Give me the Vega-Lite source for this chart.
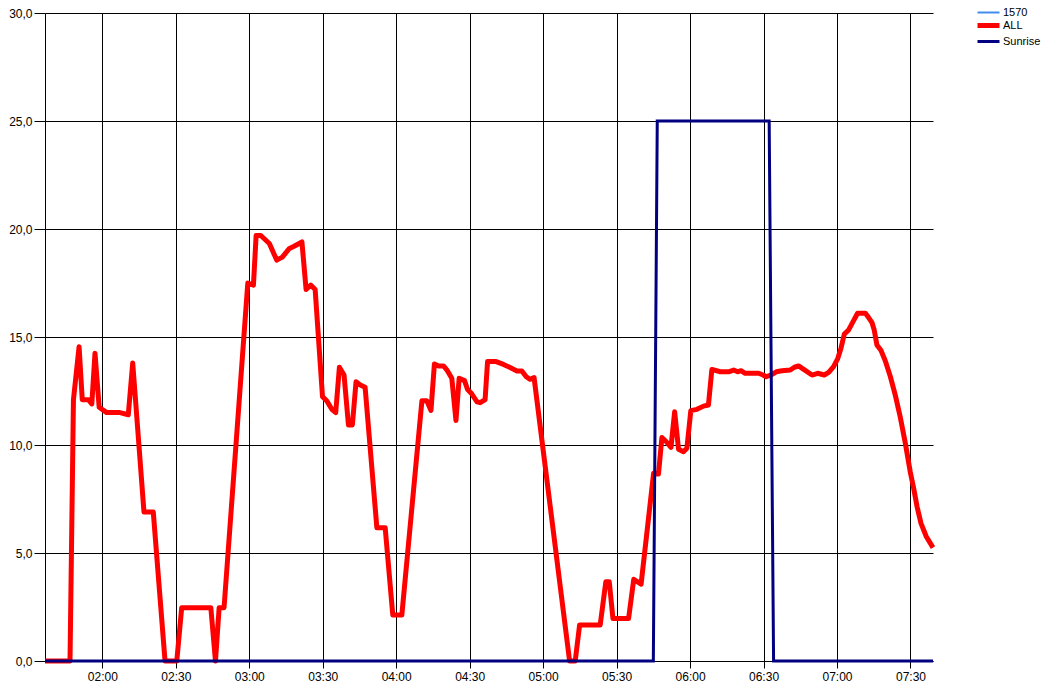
{
  "$schema": "https://vega.github.io/schema/vega-lite/v6.json",
  "width": 888,
  "height": 648,
  "autosize": "none",
  "padding": {"left": 45, "top": 13, "right": 113, "bottom": 28},
  "background": "white",
  "config": {
    "view": {"stroke": null},
    "font": "Liberation Sans",
    "axis": {
      "labelFont": "Liberation Sans",
      "labelFontSize": 12,
      "labelColor": "black",
      "domainColor": "black",
      "tickColor": "black",
      "gridColor": "black",
      "gridOpacity": 1,
      "gridWidth": 1,
      "domainWidth": 1,
      "tickWidth": 1,
      "title": null
    }
  },
  "data": {
    "values": [
      {"t": "1900-01-01T01:36:35", "v": 0, "series": "ALL"},
      {"t": "1900-01-01T01:46:48", "v": 0, "series": "ALL"},
      {"t": "1900-01-01T01:48:12", "v": 12.1, "series": "ALL"},
      {"t": "1900-01-01T01:50:30", "v": 14.55, "series": "ALL"},
      {"t": "1900-01-01T01:51:48", "v": 12.1, "series": "ALL"},
      {"t": "1900-01-01T01:54:18", "v": 12.1, "series": "ALL"},
      {"t": "1900-01-01T01:55:42", "v": 11.9, "series": "ALL"},
      {"t": "1900-01-01T01:57:00", "v": 14.25, "series": "ALL"},
      {"t": "1900-01-01T01:58:42", "v": 11.75, "series": "ALL"},
      {"t": "1900-01-01T02:01:48", "v": 11.5, "series": "ALL"},
      {"t": "1900-01-01T02:07:12", "v": 11.5, "series": "ALL"},
      {"t": "1900-01-01T02:10:36", "v": 11.4, "series": "ALL"},
      {"t": "1900-01-01T02:12:24", "v": 13.8, "series": "ALL"},
      {"t": "1900-01-01T02:17:00", "v": 6.9, "series": "ALL"},
      {"t": "1900-01-01T02:20:48", "v": 6.9, "series": "ALL"},
      {"t": "1900-01-01T02:25:36", "v": 0, "series": "ALL"},
      {"t": "1900-01-01T02:30:24", "v": 0, "series": "ALL"},
      {"t": "1900-01-01T02:32:24", "v": 2.47, "series": "ALL"},
      {"t": "1900-01-01T02:44:18", "v": 2.47, "series": "ALL"},
      {"t": "1900-01-01T02:46:12", "v": 0, "series": "ALL"},
      {"t": "1900-01-01T02:47:42", "v": 2.47, "series": "ALL"},
      {"t": "1900-01-01T02:49:42", "v": 2.47, "series": "ALL"},
      {"t": "1900-01-01T02:59:24", "v": 17.5, "series": "ALL"},
      {"t": "1900-01-01T03:01:42", "v": 17.4, "series": "ALL"},
      {"t": "1900-01-01T03:02:48", "v": 19.7, "series": "ALL"},
      {"t": "1900-01-01T03:04:42", "v": 19.7, "series": "ALL"},
      {"t": "1900-01-01T03:08:12", "v": 19.33, "series": "ALL"},
      {"t": "1900-01-01T03:11:12", "v": 18.56, "series": "ALL"},
      {"t": "1900-01-01T03:13:30", "v": 18.7, "series": "ALL"},
      {"t": "1900-01-01T03:16:24", "v": 19.1, "series": "ALL"},
      {"t": "1900-01-01T03:18:18", "v": 19.2, "series": "ALL"},
      {"t": "1900-01-01T03:21:30", "v": 19.4, "series": "ALL"},
      {"t": "1900-01-01T03:23:12", "v": 17.2, "series": "ALL"},
      {"t": "1900-01-01T03:25:06", "v": 17.4, "series": "ALL"},
      {"t": "1900-01-01T03:26:54", "v": 17.2, "series": "ALL"},
      {"t": "1900-01-01T03:29:54", "v": 12.24, "series": "ALL"},
      {"t": "1900-01-01T03:31:42", "v": 12.04, "series": "ALL"},
      {"t": "1900-01-01T03:33:42", "v": 11.65, "series": "ALL"},
      {"t": "1900-01-01T03:35:18", "v": 11.5, "series": "ALL"},
      {"t": "1900-01-01T03:36:48", "v": 13.6, "series": "ALL"},
      {"t": "1900-01-01T03:38:42", "v": 13.24, "series": "ALL"},
      {"t": "1900-01-01T03:40:30", "v": 10.93, "series": "ALL"},
      {"t": "1900-01-01T03:42:06", "v": 10.93, "series": "ALL"},
      {"t": "1900-01-01T03:43:36", "v": 12.93, "series": "ALL"},
      {"t": "1900-01-01T03:45:18", "v": 12.78, "series": "ALL"},
      {"t": "1900-01-01T03:47:18", "v": 12.67, "series": "ALL"},
      {"t": "1900-01-01T03:52:06", "v": 6.17, "series": "ALL"},
      {"t": "1900-01-01T03:55:30", "v": 6.17, "series": "ALL"},
      {"t": "1900-01-01T03:58:36", "v": 2.13, "series": "ALL"},
      {"t": "1900-01-01T04:02:18", "v": 2.13, "series": "ALL"},
      {"t": "1900-01-01T04:10:30", "v": 12.05, "series": "ALL"},
      {"t": "1900-01-01T04:12:30", "v": 12.05, "series": "ALL"},
      {"t": "1900-01-01T04:14:12", "v": 11.6, "series": "ALL"},
      {"t": "1900-01-01T04:15:36", "v": 13.75, "series": "ALL"},
      {"t": "1900-01-01T04:17:18", "v": 13.66, "series": "ALL"},
      {"t": "1900-01-01T04:19:18", "v": 13.66, "series": "ALL"},
      {"t": "1900-01-01T04:20:54", "v": 13.44, "series": "ALL"},
      {"t": "1900-01-01T04:22:42", "v": 13.09, "series": "ALL"},
      {"t": "1900-01-01T04:24:24", "v": 11.13, "series": "ALL"},
      {"t": "1900-01-01T04:25:42", "v": 13.09, "series": "ALL"},
      {"t": "1900-01-01T04:27:54", "v": 12.98, "series": "ALL"},
      {"t": "1900-01-01T04:29:06", "v": 12.58, "series": "ALL"},
      {"t": "1900-01-01T04:30:54", "v": 12.36, "series": "ALL"},
      {"t": "1900-01-01T04:33:00", "v": 12.0, "series": "ALL"},
      {"t": "1900-01-01T04:34:18", "v": 11.96, "series": "ALL"},
      {"t": "1900-01-01T04:36:18", "v": 12.1, "series": "ALL"},
      {"t": "1900-01-01T04:37:18", "v": 13.86, "series": "ALL"},
      {"t": "1900-01-01T04:40:48", "v": 13.86, "series": "ALL"},
      {"t": "1900-01-01T04:43:48", "v": 13.73, "series": "ALL"},
      {"t": "1900-01-01T04:46:18", "v": 13.6, "series": "ALL"},
      {"t": "1900-01-01T04:49:18", "v": 13.43, "series": "ALL"},
      {"t": "1900-01-01T04:51:18", "v": 13.43, "series": "ALL"},
      {"t": "1900-01-01T04:53:06", "v": 13.16, "series": "ALL"},
      {"t": "1900-01-01T04:54:42", "v": 13.04, "series": "ALL"},
      {"t": "1900-01-01T04:56:18", "v": 13.12, "series": "ALL"},
      {"t": "1900-01-01T05:10:48", "v": 0, "series": "ALL"},
      {"t": "1900-01-01T05:13:06", "v": 0, "series": "ALL"},
      {"t": "1900-01-01T05:14:54", "v": 1.67, "series": "ALL"},
      {"t": "1900-01-01T05:23:18", "v": 1.67, "series": "ALL"},
      {"t": "1900-01-01T05:25:36", "v": 3.67, "series": "ALL"},
      {"t": "1900-01-01T05:27:00", "v": 3.67, "series": "ALL"},
      {"t": "1900-01-01T05:28:30", "v": 1.97, "series": "ALL"},
      {"t": "1900-01-01T05:34:54", "v": 1.97, "series": "ALL"},
      {"t": "1900-01-01T05:37:00", "v": 3.78, "series": "ALL"},
      {"t": "1900-01-01T05:40:00", "v": 3.56, "series": "ALL"},
      {"t": "1900-01-01T05:45:06", "v": 8.69, "series": "ALL"},
      {"t": "1900-01-01T05:47:06", "v": 8.66, "series": "ALL"},
      {"t": "1900-01-01T05:48:30", "v": 10.35, "series": "ALL"},
      {"t": "1900-01-01T05:50:18", "v": 10.15, "series": "ALL"},
      {"t": "1900-01-01T05:52:12", "v": 9.89, "series": "ALL"},
      {"t": "1900-01-01T05:53:42", "v": 11.54, "series": "ALL"},
      {"t": "1900-01-01T05:55:18", "v": 9.8, "series": "ALL"},
      {"t": "1900-01-01T05:57:18", "v": 9.69, "series": "ALL"},
      {"t": "1900-01-01T05:58:42", "v": 9.85, "series": "ALL"},
      {"t": "1900-01-01T06:00:18", "v": 11.59, "series": "ALL"},
      {"t": "1900-01-01T06:02:48", "v": 11.65, "series": "ALL"},
      {"t": "1900-01-01T06:05:30", "v": 11.8, "series": "ALL"},
      {"t": "1900-01-01T06:07:30", "v": 11.85, "series": "ALL"},
      {"t": "1900-01-01T06:08:54", "v": 13.5, "series": "ALL"},
      {"t": "1900-01-01T06:12:18", "v": 13.39, "series": "ALL"},
      {"t": "1900-01-01T06:15:42", "v": 13.39, "series": "ALL"},
      {"t": "1900-01-01T06:17:48", "v": 13.47, "series": "ALL"},
      {"t": "1900-01-01T06:19:24", "v": 13.39, "series": "ALL"},
      {"t": "1900-01-01T06:20:48", "v": 13.44, "series": "ALL"},
      {"t": "1900-01-01T06:22:30", "v": 13.32, "series": "ALL"},
      {"t": "1900-01-01T06:28:00", "v": 13.32, "series": "ALL"},
      {"t": "1900-01-01T06:29:48", "v": 13.24, "series": "ALL"},
      {"t": "1900-01-01T06:31:06", "v": 13.16, "series": "ALL"},
      {"t": "1900-01-01T06:33:00", "v": 13.24, "series": "ALL"},
      {"t": "1900-01-01T06:35:12", "v": 13.39, "series": "ALL"},
      {"t": "1900-01-01T06:37:30", "v": 13.44, "series": "ALL"},
      {"t": "1900-01-01T06:40:54", "v": 13.47, "series": "ALL"},
      {"t": "1900-01-01T06:42:36", "v": 13.6, "series": "ALL"},
      {"t": "1900-01-01T06:44:18", "v": 13.66, "series": "ALL"},
      {"t": "1900-01-01T06:46:24", "v": 13.5, "series": "ALL"},
      {"t": "1900-01-01T06:49:48", "v": 13.24, "series": "ALL"},
      {"t": "1900-01-01T06:52:06", "v": 13.32, "series": "ALL"},
      {"t": "1900-01-01T06:54:48", "v": 13.24, "series": "ALL"},
      {"t": "1900-01-01T06:56:36", "v": 13.36, "series": "ALL"},
      {"t": "1900-01-01T06:58:36", "v": 13.63, "series": "ALL"},
      {"t": "1900-01-01T07:00:18", "v": 14.0, "series": "ALL"},
      {"t": "1900-01-01T07:01:36", "v": 14.47, "series": "ALL"},
      {"t": "1900-01-01T07:03:00", "v": 15.14, "series": "ALL"},
      {"t": "1900-01-01T07:04:42", "v": 15.32, "series": "ALL"},
      {"t": "1900-01-01T07:06:30", "v": 15.7, "series": "ALL"},
      {"t": "1900-01-01T07:08:24", "v": 16.1, "series": "ALL"},
      {"t": "1900-01-01T07:11:36", "v": 16.1, "series": "ALL"},
      {"t": "1900-01-01T07:12:54", "v": 15.9, "series": "ALL"},
      {"t": "1900-01-01T07:14:18", "v": 15.66, "series": "ALL"},
      {"t": "1900-01-01T07:15:12", "v": 15.32, "series": "ALL"},
      {"t": "1900-01-01T07:16:18", "v": 14.63, "series": "ALL"},
      {"t": "1900-01-01T07:18:00", "v": 14.37, "series": "ALL"},
      {"t": "1900-01-01T07:19:42", "v": 13.9, "series": "ALL"},
      {"t": "1900-01-01T07:21:48", "v": 13.16, "series": "ALL"},
      {"t": "1900-01-01T07:23:48", "v": 12.31, "series": "ALL"},
      {"t": "1900-01-01T07:25:48", "v": 11.31, "series": "ALL"},
      {"t": "1900-01-01T07:27:54", "v": 10.08, "series": "ALL"},
      {"t": "1900-01-01T07:29:54", "v": 8.76, "series": "ALL"},
      {"t": "1900-01-01T07:31:18", "v": 8.0, "series": "ALL"},
      {"t": "1900-01-01T07:32:42", "v": 7.14, "series": "ALL"},
      {"t": "1900-01-01T07:34:18", "v": 6.37, "series": "ALL"},
      {"t": "1900-01-01T07:36:30", "v": 5.75, "series": "ALL"},
      {"t": "1900-01-01T07:39:12", "v": 5.25, "series": "ALL"},
      {"t": "1900-01-01T01:36:35", "v": 0, "series": "Sunrise"},
      {"t": "1900-01-01T05:45:00", "v": 0, "series": "Sunrise"},
      {"t": "1900-01-01T05:46:36", "v": 25, "series": "Sunrise"},
      {"t": "1900-01-01T06:32:18", "v": 25, "series": "Sunrise"},
      {"t": "1900-01-01T06:34:06", "v": 0, "series": "Sunrise"},
      {"t": "1900-01-01T07:39:12", "v": 0, "series": "Sunrise"}
    ]
  },
  "encoding": {
    "x": {
      "field": "t",
      "type": "temporal",
      "scale": {
        "domain": [
          {"year": 1900, "month": 1, "date": 1, "hours": 1, "minutes": 36, "seconds": 35},
          {"year": 1900, "month": 1, "date": 1, "hours": 7, "minutes": 39, "seconds": 12}
        ]
      },
      "axis": {
        "format": "%H:%M",
        "values": [
          {"year": 1900, "month": 1, "date": 1, "hours": 2, "minutes": 0},
          {"year": 1900, "month": 1, "date": 1, "hours": 2, "minutes": 30},
          {"year": 1900, "month": 1, "date": 1, "hours": 3, "minutes": 0},
          {"year": 1900, "month": 1, "date": 1, "hours": 3, "minutes": 30},
          {"year": 1900, "month": 1, "date": 1, "hours": 4, "minutes": 0},
          {"year": 1900, "month": 1, "date": 1, "hours": 4, "minutes": 30},
          {"year": 1900, "month": 1, "date": 1, "hours": 5, "minutes": 0},
          {"year": 1900, "month": 1, "date": 1, "hours": 5, "minutes": 30},
          {"year": 1900, "month": 1, "date": 1, "hours": 6, "minutes": 0},
          {"year": 1900, "month": 1, "date": 1, "hours": 6, "minutes": 30},
          {"year": 1900, "month": 1, "date": 1, "hours": 7, "minutes": 0},
          {"year": 1900, "month": 1, "date": 1, "hours": 7, "minutes": 30}
        ],
        "tickSize": 7,
        "labelPadding": 3,
        "labelFlush": false,
        "labelOverlap": false
      }
    },
    "y": {
      "field": "v",
      "type": "quantitative",
      "scale": {"domain": [0, 30], "nice": false},
      "axis": {
        "values": [0, 5, 10, 15, 20, 25, 30],
        "labelExpr": "replace(format(datum.value, '.1f'), '.', ',')",
        "tickSize": 11,
        "labelPadding": 2
      }
    },
    "color": {
      "field": "series",
      "type": "nominal",
      "scale": {"domain": ["1570", "ALL", "Sunrise"], "range": ["#418CF0", "#FF0000", "#000080"]},
      "legend": {
        "title": null,
        "orient": "none",
        "legendX": 938,
        "legendY": -6,
        "padding": 0,
        "symbolType": "stroke",
        "symbolSize": 484,
        "symbolStrokeWidth": 3,
        "rowPadding": -3,
        "labelOffset": 9,
        "labelFont": "Liberation Sans",
        "labelFontSize": 11,
        "labelColor": "black",
        "encode": {
          "symbols": {
            "update": {
              "strokeWidth": {"signal": "datum.value === '1570' ? 2 : (datum.value === 'ALL' ? 5 : 3)"}
            }
          }
        }
      }
    }
  },
  "layer": [
    {
      "transform": [{"filter": "datum.series === 'ALL'"}],
      "mark": {"type": "line", "strokeWidth": 5, "strokeJoin": "round"}
    },
    {
      "transform": [{"filter": "datum.series === 'Sunrise'"}],
      "mark": {"type": "line", "strokeWidth": 3}
    }
  ]
}
